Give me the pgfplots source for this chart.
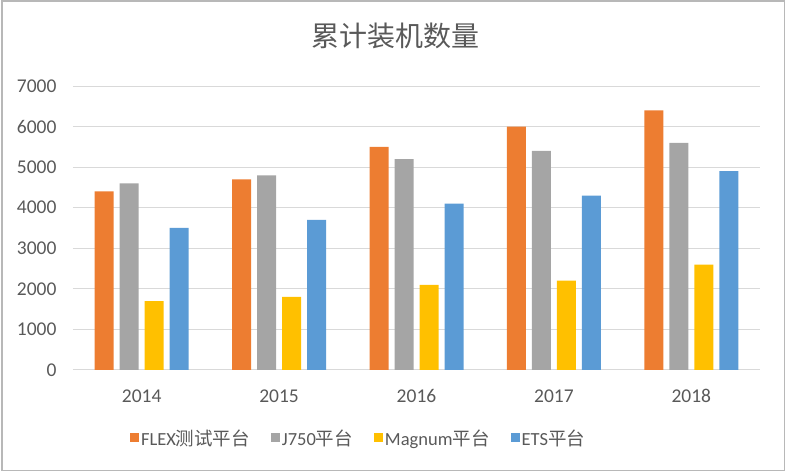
\documentclass[border=0pt]{standalone}
\usepackage{fontspec}
\setmainfont{Carlito}
\newfontfamily\cjk{Noto Sans CJK SC}
\usepackage{pgfplots}
\pgfplotsset{compat=1.18}
\definecolor{cOrange}{HTML}{ED7D31}
\definecolor{cGray}{HTML}{A5A5A5}
\definecolor{cYellow}{HTML}{FFC000}
\definecolor{cBlue}{HTML}{5B9BD5}
\definecolor{cText}{HTML}{595959}
\definecolor{cGrid}{HTML}{D9D9D9}
\begin{document}
\begin{tikzpicture}[x=1pt,y=1pt]
\useasboundingbox (0,0) rectangle (787,473);
\draw[color=black!28, line width=1.2pt] (2,2.5) rectangle (784.5,472);
\node[text=cText, font=\cjk\fontsize{28}{32}\selectfont] at (395,437) {累计装机数量};
\begin{axis}[
  at={(73pt,103pt)}, anchor=south west,
  width=687pt, height=284pt, scale only axis,
  ybar=6pt, bar width=19pt,
  xmin=-0.5, xmax=4.5, ymin=0, ymax=7000,
  xtick={0,1,2,3,4},
  xticklabels={2014,2015,2016,2017,2018},
  ytick={0,1000,...,7000},
  /pgf/number format/assume math mode=true,
  /pgf/number format/1000 sep={},
  ymajorgrids, grid style={draw=cGrid, line width=1pt},
  axis line style={draw=none},
  major tick length=0pt,
  tick label style={text=cText, font=\fontsize{19.5}{22}\selectfont},
  yticklabel style={xshift=-13pt},
  xticklabel style={yshift=-16pt},
  legend style={at={(0.4156,-0.24)}, anchor=center, draw=none, fill=none,
    legend columns=4, font=\fontsize{18.5}{21}\selectfont, text=cText,
    /tikz/every even column/.append style={column sep=19pt}},
  legend image code/.code={\fill[#1] (0pt,-4pt) rectangle (9pt,5pt);},
  legend cell align=left,
]
\addplot[fill=cOrange, draw=none] coordinates {(0,4400) (1,4700) (2,5500) (3,6000) (4,6400)};
\addlegendentry{FLEX{\cjk 测试平台}}
\addplot[fill=cGray, draw=none] coordinates {(0,4600) (1,4800) (2,5200) (3,5400) (4,5600)};
\addlegendentry{J750{\cjk 平台}}
\addplot[fill=cYellow, draw=none] coordinates {(0,1700) (1,1800) (2,2100) (3,2200) (4,2600)};
\addlegendentry{Magnum{\cjk 平台}}
\addplot[fill=cBlue, draw=none] coordinates {(0,3500) (1,3700) (2,4100) (3,4300) (4,4900)};
\addlegendentry{ETS{\cjk 平台}}
\end{axis}
\end{tikzpicture}
\end{document}
